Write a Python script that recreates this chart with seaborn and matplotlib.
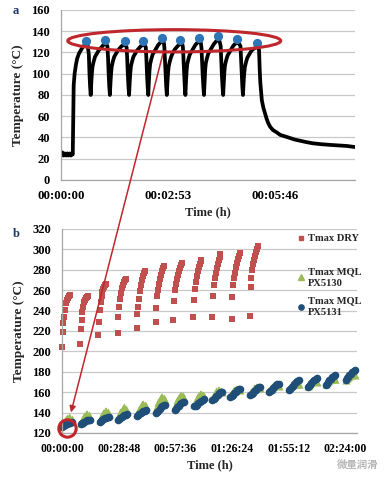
import pandas as pd
import seaborn as sns
import matplotlib.pyplot as plt
from matplotlib.patches import Ellipse, ConnectionPatch
from matplotlib.lines import Line2D
from matplotlib.ticker import FuncFormatter
from matplotlib.legend_handler import HandlerLine2D

# ---- panel a: temperature trace of one test (time in s) ----
a_time_s = [
    0, 2, 4, 6, 8, 10, 12, 14, 16, 18, 19,
    19.5, 20, 20.5, 22, 24, 26, 29, 32, 35, 38, 41, 43, 45, 46, 47, 48,
    49, 50, 51, 53, 55, 58, 61, 64, 67, 70, 73, 75, 76, 77, 78, 79,
    80, 81, 82, 84, 86, 89, 92, 95, 98, 101, 104, 106, 107, 108, 109, 110,
    111, 112, 113, 115, 117, 120, 123, 126, 129, 132, 135, 137, 138, 139, 140, 141,
    142, 143, 144, 146, 148, 151, 154, 157, 160, 163, 166, 167, 168, 169, 170, 171,
    172, 173, 174, 176, 178, 181, 184, 187, 190, 193, 196, 197, 198, 199, 200, 201,
    202, 203, 204, 206, 208, 211, 214, 217, 220, 223, 226, 227, 228, 229, 230, 231,
    232, 233, 234, 236, 238, 241, 244, 247, 250, 253, 256, 258, 259, 260, 261, 262,
    263, 264, 265, 267, 269, 272, 275, 278, 281, 284, 287, 290, 291, 292, 293, 294,
    295, 296, 297, 299, 301, 304, 307, 310, 313, 316, 319,
    320, 321, 322, 323, 324.5, 327, 329.5, 332, 334.5, 338, 342.5, 348, 354, 362,
    370, 378, 386, 396, 407, 420, 435, 448, 462, 475,
]
a_temp_c = [
    24, 26, 23, 25, 23, 25, 23, 25, 23, 25, 24,
    45, 70, 89, 100, 108, 114, 119, 122, 125, 127, 128, 127, 118, 100, 88, 80,
    92, 101, 107, 112, 116, 119, 122, 124, 126, 128, 128, 126, 115, 100, 88, 80,
    92, 101, 107, 112, 116, 119, 122, 124, 126, 127, 127, 125, 114, 99, 88, 80,
    92, 101, 107, 112, 116, 119, 122, 124, 126, 127, 127, 125, 114, 99, 88, 80,
    93, 103, 109, 114, 118, 121, 124, 127, 129, 131, 130, 125, 112, 98, 88, 80,
    92, 101, 107, 112, 116, 120, 123, 125, 127, 128, 128, 125, 113, 99, 88, 80,
    93, 103, 109, 114, 118, 121, 124, 127, 129, 130, 129, 124, 111, 98, 88, 80,
    93, 104, 110, 115, 119, 122, 125, 128, 130, 132, 131, 126, 112, 98, 88, 80,
    92, 102, 108, 113, 117, 120, 123, 126, 128, 129, 129, 126, 113, 99, 88, 80,
    91, 100, 106, 111, 115, 118, 121, 123, 124, 125, 125,
    122, 105, 92, 85, 75, 68, 63, 58, 54, 50, 47, 45, 42.5, 41,
    39.5, 38, 37, 35.7, 34.5, 33.7, 33, 32.5, 32, 31,
]
a_peak_time_s = [40, 71, 103, 132, 163, 192, 223, 254, 284, 317]
a_peak_temp_c = [131, 132, 131, 131, 134, 132, 134, 135.5, 133, 128.5]

# ---- panel b: Tmax of each pass, grouped by cycle ----
dry_start_s = [0, 550, 1100, 1700, 2280, 2860, 3400, 4005, 4585, 5180, 5735]
dry_offset_s = [0, 20, 45, 75, 105, 135, 165, 195, 225, 250]
dry_temp_c = [
    [204, 219, 228, 234, 241, 247, 250, 252, 254, 255],
    [207, 222, 231, 239, 244, 248, 250, 252, 253, 254],
    [216, 229, 241, 248, 254, 258, 261, 263, 265, 266],
    [218, 234, 244, 251, 257, 262, 265, 268, 270, 271],
    [223, 237, 244, 251, 259, 265, 270, 274, 277, 279],
    [229, 243, 254, 260, 266, 271, 275, 279, 282, 284],
    [231, 249, 260, 266, 271, 275, 279, 282, 285, 287],
    [234, 250, 261, 268, 274, 279, 283, 286, 289, 290],
    [234, 254, 265, 272, 277, 282, 286, 290, 293, 295],
    [232, 253, 265, 272, 277, 283, 287, 291, 294, 296],
    [235, 263, 272, 280, 286, 290, 294, 297, 300, 303],
]

mql_start_s = [0, 565, 1145, 1695, 2275, 2855, 3435, 4040,
               4590, 5140, 5750, 6315, 6925, 7490, 8040, 8650]
mql_offset_s = [0, 40, 80, 120, 160, 200, 250, 300]
px5130_temp_c = [
    [128, 130, 132, 134, 135, 135.5, 135, 134],
    [130, 132.5, 135, 137, 138.5, 138.5, 137.5, 136],
    [133, 135.5, 138, 140, 141.5, 142, 141, 139],
    [135, 138, 140.5, 143, 144.5, 145, 144, 142],
    [139, 141.5, 144, 146.5, 148, 148.5, 147.5, 146],
    [143, 146.5, 150, 153, 155, 155.5, 154, 152],
    [145, 148.5, 152, 155, 156.5, 157, 156, 154],
    [148, 151, 154, 156.5, 158, 158.5, 157.5, 156],
    [154, 156.5, 159, 161, 162, 162, 161.5, 160.5],
    [157, 159, 161, 162.5, 163.5, 163.5, 163, 162.5],
    [159, 161, 162.5, 164, 165, 165, 165, 164.5],
    [162, 163.5, 165, 166.5, 167.5, 167.5, 167, 166.5],
    [164, 165.5, 167, 168, 168.5, 168.5, 168.5, 168.5],
    [166, 167.5, 169, 170, 170.5, 170.5, 170.5, 170],
    [168, 169.5, 171, 172, 172.5, 173, 173, 172.5],
    [172, 173.5, 175, 176, 177, 177.5, 177.5, 177],
]
px5131_temp_c = [
    [126, 126.5, 127.5, 128.5, 129, 129.5, 130, 130.5],
    [129, 129.5, 130, 131, 132, 132.5, 133, 133],
    [131, 131.5, 132.5, 133.5, 134.5, 135, 135.5, 135.5],
    [133, 133.5, 134.5, 135.5, 136.5, 137.5, 138, 138.5],
    [137, 137.5, 138.5, 139.5, 140.5, 141.5, 142, 142.5],
    [140, 141, 142, 143.5, 145, 146, 147, 147.5],
    [143, 144, 145, 146.5, 148, 149, 150, 150.5],
    [146, 146.5, 147.5, 149, 150.5, 151.5, 152.5, 153],
    [152, 153, 154.5, 156, 157.5, 159, 160, 160.5],
    [155, 156, 157.5, 159, 160.5, 162, 163, 163.5],
    [157, 158, 159.5, 161, 162.5, 164, 165, 165.5],
    [160, 161, 162.5, 164, 165.5, 167, 168, 168.5],
    [162, 163.5, 165, 166.5, 168, 169.5, 171, 171.5],
    [165, 166, 167.5, 169, 170.5, 172, 173, 173.5],
    [167, 168.5, 170, 171.5, 173, 174.5, 176, 176.5],
    [172, 173.5, 175, 176.5, 178, 179.5, 181, 181.5],
]

a_ticks_s = [0, 173, 346]
b_ticks_s = [0, 1728, 3456, 5184, 6912, 8640]

# highlight marks (data units of each panel)
ellipse_center = (183, 131)
ellipse_size = (344, 21)
circle_center = (153, 125)

RED = '#c0272d'
DRY_RED = '#c0504d'
GREEN = '#9bbb59'
NAVY = '#1f4e79'
BLUE = '#2e75b6'
GRID = '#c9c9c9'
AXIS = '#a6a6a6'


def cycles_frame(starts, offsets, temps):
    rows = []
    for s, vals in zip(starts, temps):
        for o, v in zip(offsets, vals):
            rows.append((s + o, v))
    return pd.DataFrame(rows, columns=['time_s', 'temp_c'])


def hms(v, pos=None):
    v = int(round(v))
    return f"{v // 3600:02d}:{v % 3600 // 60:02d}:{v % 60:02d}"


sns.set_theme(style='whitegrid')
plt.rcParams['font.family'] = ['Liberation Serif', 'DejaVu Serif']
plt.rcParams['font.weight'] = 'bold'
plt.rcParams['axes.labelweight'] = 'bold'

fig = plt.figure(figsize=(3.9, 4.82), dpi=100)
ax1 = fig.add_axes([0.1564, 0.6266, 0.7538, 0.3527])
ax2 = fig.add_axes([0.159, 0.1017, 0.7564, 0.4232])

# panel a
sns.lineplot(x=a_time_s, y=a_temp_c, ax=ax1, color='black', lw=2.7,
             sort=False, estimator=None, zorder=2)
sns.scatterplot(x=a_peak_time_s, y=a_peak_temp_c, ax=ax1, color=BLUE,
                s=44, linewidth=0, zorder=3)
ax1.add_patch(Ellipse(ellipse_center, ellipse_size[0], ellipse_size[1],
                      fill=False, ec=RED, lw=2.2, zorder=4))
ax1.set_xlim(0, 475)
ax1.set_ylim(0, 160)
ax1.set_yticks(range(0, 161, 20))
ax1.set_xticks(a_ticks_s)

# panel b
dry = cycles_frame(dry_start_s, dry_offset_s, dry_temp_c)
g30 = cycles_frame(mql_start_s, mql_offset_s, px5130_temp_c)
b31 = cycles_frame(mql_start_s, mql_offset_s, px5131_temp_c)
sns.scatterplot(data=dry, x='time_s', y='temp_c', ax=ax2, marker='s',
                color=DRY_RED, s=15, linewidth=0, clip_on=False)
sns.scatterplot(data=g30, x='time_s', y='temp_c', ax=ax2, marker='^',
                color=GREEN, s=34, linewidth=0, clip_on=False)
sns.scatterplot(data=b31, x='time_s', y='temp_c', ax=ax2, marker='o',
                color=NAVY, s=30, linewidth=0, clip_on=False)
ax2.plot(*circle_center, marker='o', ms=12.5, mfc='none', mec=RED, mew=2.2,
         ls='none', clip_on=False, zorder=5)
ax2.set_xlim(0, 9000)
ax2.set_ylim(120, 320)
ax2.set_yticks(range(120, 321, 20))
ax2.set_xticks(b_ticks_s)

for ax, xs in [(ax1, 9.3), (ax2, 8.5)]:
    ax.xaxis.set_major_formatter(FuncFormatter(hms))
    ax.grid(axis='y', color=GRID, lw=0.9)
    ax.grid(axis='x', visible=False)
    ax.set_facecolor('white')
    for side in ['top', 'right']:
        ax.spines[side].set_visible(False)
    for side in ['left', 'bottom']:
        ax.spines[side].set_color(AXIS)
        ax.spines[side].set_linewidth(0.9)
    ax.tick_params(axis='x', direction='in', length=4, width=0.8, color=AXIS,
                   pad=7, labelsize=xs, labelcolor='black')
    ax.tick_params(axis='y', length=0, pad=8, labelsize=9, labelcolor='black')
    ax.set_xlabel('Time (h)', fontsize=9, fontweight='bold', labelpad=3)
    ax.set_ylabel('Temperature (°C)', fontsize=9.6, fontweight='bold', labelpad=5)

# legend (markers sit beside the first text line)
prop = dict(family='Liberation Serif', weight='bold', size=7.6)
h_dry = Line2D([], [], ls='none', marker='s', ms=3.5, color=DRY_RED)
h_30 = Line2D([], [], ls='none', marker='^', ms=4, color=GREEN)
h_31 = Line2D([], [], ls='none', marker='o', ms=3.8, color=NAVY)
leg1 = ax2.legend([h_dry], ['Tmax DRY'], loc='upper left',
                  bbox_to_anchor=(0.796, 0.975), frameon=False, prop=prop,
                  handlelength=0.7, handletextpad=0.35, borderpad=0,
                  borderaxespad=0)
ax2.add_artist(leg1)
leg2 = ax2.legend([h_30, h_31], ['Tmax MQL\nPX5130', 'Tmax MQL\nPX5131'],
                  loc='upper left', bbox_to_anchor=(0.796, 0.815),
                  frameon=False, prop=prop, handlelength=0.7,
                  handletextpad=0.35, borderpad=0, borderaxespad=0,
                  labelspacing=0.8,
                  handler_map={h_30: HandlerLine2D(ypad=1.7),
                               h_31: HandlerLine2D(ypad=1.7)})
for t in leg2.get_texts():
    t.set_linespacing(1.45)

# arrow from the ellipse in (a) to the circle in (b)
arrow_start = (ellipse_center[0] - 18, ellipse_center[1] - ellipse_size[1] / 2 - 1)
con = ConnectionPatch(xyA=arrow_start, coordsA=ax1.transData,
                      xyB=circle_center, coordsB=ax2.transData,
                      arrowstyle='-|>', shrinkA=0, shrinkB=11.5,
                      mutation_scale=9, color=RED, lw=1.1, zorder=10)
fig.add_artist(con)

fig.text(13 / 390, 1 - 11 / 482, 'a', fontsize=9, fontweight='bold',
         color='#1f3864', va='center')
fig.text(13 / 390, 1 - 234 / 482, 'b', fontsize=9, fontweight='bold',
         color='#1f3864', va='center')
fig.text(337 / 390, 1 - 465 / 482, '微量润滑', fontsize=7.5, color='#b5b5b5',
         va='center', family=['Noto Sans CJK SC', 'DejaVu Sans'])

fig.savefig('out.png', dpi=100)
